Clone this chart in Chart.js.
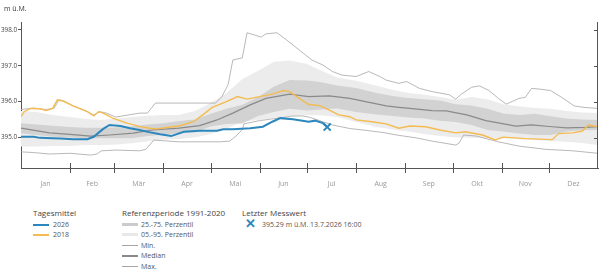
<!DOCTYPE html>
<html>
<head>
<meta charset="utf-8">
<script src="https://cdn.jsdelivr.net/npm/chart.js@4/dist/chart.umd.min.js"></script>
<style>
  body { margin: 0; background: #fff; font-family: "Open Sans", sans-serif; }
  #wrap { position: relative; width: 605px; height: 275px; }
  #box { position: absolute; left: 0; top: 0; width: 605px; height: 190px; }
  .t { position: absolute; white-space: nowrap; line-height: 1; }
  .unit { left: 4px; top: 5px; font-size: 7px; color: #333; }
  .head { font-size: 8px; color: #444; }
  .item { font-size: 7px; color: #555; }
  .sw { position: absolute; width: 16px; }
</style>
</head>
<body>
<div id="wrap">
  <div id="box"><canvas id="myChartLevel"></canvas></div>
  <div class="t unit">m ü.M.</div>

  <div class="t head" style="left:33px;top:209px">Tagesmittel</div>
  <div class="sw" style="left:33px;top:224px;height:2px;background:#2b87bd"></div>
  <div class="t item" style="left:53px;top:221px">2026</div>
  <div class="sw" style="left:33px;top:234px;height:2px;background:#f4bb50"></div>
  <div class="t item" style="left:53px;top:231px">2018</div>

  <div class="t head" style="left:122px;top:209px">Referenzperiode 1991-2020</div>
  <div class="sw" style="left:122px;top:223px;height:3px;background:#cbcbcb"></div>
  <div class="t item" style="left:141px;top:221px">25.-75. Perzentil</div>
  <div class="sw" style="left:122px;top:233px;height:3px;background:#e8e8e8"></div>
  <div class="t item" style="left:141px;top:231px">05.-95. Perzentil</div>
  <div class="sw" style="left:122px;top:245px;height:1px;background:#a6a6a6"></div>
  <div class="t item" style="left:141px;top:242px">Min.</div>
  <div class="sw" style="left:122px;top:255px;height:1.5px;background:#8a8a8a"></div>
  <div class="t item" style="left:141px;top:252px">Median</div>
  <div class="sw" style="left:122px;top:266px;height:1px;background:#a6a6a6"></div>
  <div class="t item" style="left:141px;top:263px">Max.</div>

  <div class="t head" style="left:242px;top:209px">Letzter Messwert</div>
  <div class="t" style="left:245px;top:217px;font-size:13px;color:#2b87bd;font-weight:bold">✕</div>
  <div class="t item" style="left:262px;top:221px">395.29 m ü.M. 13.7.2026 16:00</div>
</div>

<script>
// Month axis (day of year)
const months = ["Jan", "Feb", "Mär", "Apr", "Mai", "Jun", "Jul", "Aug", "Sep", "Okt", "Nov", "Dez"];
const monthStarts = [0, 31, 59, 90, 120, 151, 181, 212, 243, 273, 304, 334, 365];
const yTicks = [395, 396, 397, 398];

// Reference period 1991-2020 percentiles (shared days)
const bandDays = [0, 10, 20, 31, 40, 50, 59, 70, 80, 90, 100, 110, 120, 130, 140, 150, 160, 170, 181, 190,
  200, 212, 225, 235, 245, 255, 265, 275, 285, 295, 305, 315, 325, 335, 345, 355, 365];
const p95 = [395.74, 395.71, 395.63, 395.57, 395.52, 395.49, 395.52, 395.57, 395.61, 395.63,
  395.63, 395.74, 395.96, 396.24, 396.63, 396.86, 397.11, 397.15, 397.05, 396.86,
  396.67, 396.58, 396.44, 396.33, 396.24, 396.19, 396.13, 396.05, 396.13, 396.07,
  395.93, 395.87, 395.82, 395.80, 395.74, 395.70, 395.68];
const p75 = [395.40, 395.36, 395.33, 395.29, 395.27, 395.27, 395.28, 395.31, 395.36, 395.40,
  395.46, 395.50, 395.66, 395.80, 395.91, 396.13, 396.42, 396.60, 396.59, 396.54,
  396.45, 396.38, 396.24, 396.16, 396.10, 396.07, 396.03, 395.93, 395.89, 395.80,
  395.67, 395.63, 395.66, 395.59, 395.53, 395.50, 395.49];
const p25 = [395.12, 395.07, 395.02, 395.00, 394.98, 394.98, 394.98, 394.98, 395.04, 395.08,
  395.12, 395.15, 395.31, 395.38, 395.39, 395.60, 395.71, 395.80, 395.75, 395.78,
  395.81, 395.71, 395.64, 395.60, 395.56, 395.53, 395.47, 395.43, 395.35, 395.21,
  395.17, 395.11, 395.07, 395.07, 395.17, 395.20, 395.21];
const p05 = [394.75, 394.75, 394.76, 394.76, 394.79, 394.79, 394.80, 394.84, 394.89, 394.94,
  394.96, 395.00, 395.10, 395.24, 395.45, 395.48, 395.55, 395.60, 395.62, 395.62,
  395.57, 395.43, 395.29, 395.22, 395.17, 395.10, 395.04, 395.00, 394.99, 394.98,
  394.98, 394.96, 394.93, 394.90, 394.88, 394.85, 394.79];

// Median
const medDays = [0, 18, 31, 44, 56, 71, 83, 100, 113, 124, 134, 145, 155, 170, 182, 195, 208, 218, 231, 239,
  246, 260, 269, 282, 294, 302, 313, 323, 336, 345, 357, 365];
const medVals = [395.26, 395.13, 395.09, 395.04, 395.07, 395.12, 395.21, 395.26, 395.33, 395.49,
  395.68, 395.91, 396.09, 396.21, 396.14, 396.16, 396.09, 396.00, 395.88, 395.84,
  395.81, 395.75, 395.74, 395.63, 395.47, 395.41, 395.32, 395.35, 395.30, 395.27, 395.28, 395.30];

// Max
const maxDays = [0, 8, 16, 21, 24, 27, 33, 42, 46, 50, 54, 60, 75, 80, 85, 113, 123, 127, 131, 134,
  140, 143, 152, 155, 162, 168, 176, 184, 191, 197, 203, 212, 220, 227, 231, 239, 244, 252, 260, 271,
  275, 278, 285, 290, 296, 302, 307, 315, 319, 323, 328, 335, 342, 350, 356, 365];
const maxVals = [395.78, 395.82, 395.78, 395.82, 396.05, 396.02, 395.88, 395.72, 395.63, 395.72,
  395.68, 395.57, 395.68, 395.68, 395.96, 395.96, 395.96, 396.13, 396.47, 397.16,
  397.22, 397.92, 397.80, 397.89, 397.92, 397.72, 397.44, 397.16, 397.02, 396.84,
  396.74, 396.70, 396.84, 396.70, 396.60, 396.51, 396.56, 396.37, 396.28, 396.19,
  396.07, 396.19, 396.40, 396.44, 396.31, 396.09, 395.93, 396.09, 396.12, 396.37,
  396.35, 396.31, 396.12, 395.88, 395.84, 395.81];

// Min
const minDays = [0, 8, 18, 31, 44, 48, 51, 60, 75, 79, 84, 90, 100, 126, 132, 136, 140, 141, 151, 172,
  178, 182, 189, 197, 208, 218, 229, 239, 250, 260, 275, 277, 280, 288, 302, 315, 332, 349, 365];
const minVals = [394.60, 394.58, 394.54, 394.56, 394.51, 394.54, 394.63, 394.65, 394.63, 394.67,
  394.93, 394.91, 394.88, 394.88, 394.90, 395.04, 395.22, 395.38, 395.47, 395.60,
  395.60, 395.57, 395.47, 395.35, 395.25, 395.20, 395.14, 395.06, 394.99, 394.90,
  394.79, 394.84, 395.07, 395.04, 394.88, 394.76, 394.67, 394.63, 394.56];

// Tagesmittel 2026
const days2026 = [0, 8, 12, 20, 25, 33, 42, 46, 52, 56, 63, 69, 75, 81, 88, 95, 103, 113, 124, 128,
  134, 145, 153, 159, 164, 172, 178, 182, 186, 191, 193.7];
const vals2026 = [395.02, 395.02, 394.99, 394.98, 394.97, 394.95, 394.95, 395.02, 395.24, 395.35,
  395.32, 395.26, 395.21, 395.15, 395.09, 395.04, 395.16, 395.19, 395.19, 395.23,
  395.23, 395.26, 395.30, 395.44, 395.54, 395.51, 395.47, 395.44, 395.47, 395.40, 395.29];

// Tagesmittel 2018
const days2018 = [0, 2, 6, 12, 16, 20, 23, 27, 33, 42, 46, 49, 52, 58, 67, 75, 81, 86, 92, 100,
  109, 115, 121, 130, 137, 143, 151, 159, 166, 170, 176, 182, 189, 197, 201, 208, 212, 222, 231, 239,
  246, 256, 265, 275, 281, 292, 300, 305, 319, 336, 340, 349, 355, 359, 365];
const vals2018 = [395.58, 395.72, 395.81, 395.80, 395.75, 395.81, 396.05, 396.01, 395.88, 395.72,
  395.60, 395.72, 395.68, 395.54, 395.40, 395.31, 395.26, 395.24, 395.28, 395.32,
  395.44, 395.63, 395.84, 396.00, 396.14, 396.07, 396.14, 396.21, 396.31, 396.28,
  396.09, 395.92, 395.89, 395.72, 395.63, 395.58, 395.49, 395.44, 395.38, 395.26,
  395.32, 395.30, 395.21, 395.13, 395.16, 395.07, 394.93, 395.01, 394.97, 394.94,
  395.11, 395.13, 395.18, 395.35, 395.30];

// Letzter Messwert
const lastDay = [193.7];
const lastVal = [395.29];

const pts = (days, vals) => days.map((d, i) => ({ x: d, y: vals[i] }));
const monthMids = months.map((m, i) => (monthStarts[i] + monthStarts[i + 1]) / 2);

// Month tick marks across the x axis, right frame with inward ticks
const axisMarks = {
  id: "axisMarks",
  afterDraw(chart) {
    const { ctx, chartArea: a, scales } = chart;
    ctx.save();
    ctx.strokeStyle = "#555";
    ctx.lineWidth = 1;
    ctx.beginPath();
    monthStarts.slice(1, 12).forEach((d) => {
      const px = Math.round(scales.x.getPixelForValue(d)) + 0.5;
      ctx.moveTo(px, a.bottom - 5);
      ctx.lineTo(px, a.bottom + 5);
    });
    ctx.moveTo(a.right - 0.5, a.top);
    ctx.lineTo(a.right - 0.5, a.bottom);
    yTicks.forEach((v) => {
      const py = Math.round(scales.y.getPixelForValue(v)) + 0.5;
      ctx.moveTo(a.right - 4, py);
      ctx.lineTo(a.right, py);
    });
    ctx.stroke();
    ctx.restore();
  },
};

const line = (data, color, width) => ({
  data, borderColor: color, borderWidth: width, pointRadius: 0, fill: false, tension: 0,
});

const ctx = document.getElementById("myChartLevel").getContext("2d");
new Chart(ctx, {
  type: "line",
  data: {
    datasets: [
      {
        data: pts(lastDay, lastVal), showLine: false, pointStyle: "crossRot",
        pointRadius: 5, borderColor: "#2b87bd", borderWidth: 2,
      },
      line(pts(days2026, vals2026), "#2b87bd", 2),
      line(pts(days2018, vals2018), "#f4bb50", 1.4),
      line(pts(medDays, medVals), "#8a8a8a", 1.2),
      line(pts(maxDays, maxVals), "#a6a6a6", 0.8),
      line(pts(minDays, minVals), "#a6a6a6", 0.8),
      { data: pts(bandDays, p75), borderWidth: 0, pointRadius: 0, backgroundColor: "#d2d2d2", fill: { target: 7 } },
      { data: pts(bandDays, p25), borderWidth: 0, pointRadius: 0, fill: false },
      { data: pts(bandDays, p95), borderWidth: 0, pointRadius: 0, backgroundColor: "#ececec", fill: { target: 9 } },
      { data: pts(bandDays, p05), borderWidth: 0, pointRadius: 0, fill: false },
    ],
  },
  options: {
    responsive: true,
    maintainAspectRatio: false,
    animation: false,
    layout: { padding: { top: 22, right: 6, left: 0, bottom: 0 } },
    plugins: { legend: { display: false }, tooltip: { enabled: false } },
    scales: {
      x: {
        type: "linear",
        min: 0,
        max: 365,
        afterBuildTicks: (scale) => { scale.ticks = monthMids.map((v) => ({ value: v })); },
        afterFit: (scale) => { scale.height = 22; },
        ticks: {
          autoSkip: false, maxRotation: 0, padding: 4,
          color: "#999", font: { family: "Open Sans", size: 7 },
          callback: (v, i) => months[i],
        },
        grid: { display: false },
        border: { display: true, color: "#555" },
      },
      y: {
        min: 394.15,
        max: 398.22,
        afterBuildTicks: (scale) => { scale.ticks = yTicks.map((v) => ({ value: v })); },
        afterFit: (scale) => { scale.width = 21; },
        ticks: {
          padding: 1, color: "#444", font: { family: "Open Sans", size: 6.3 },
          callback: (v) => v.toFixed(1),
        },
        grid: { drawOnChartArea: false, tickLength: 3, color: "#555" },
        border: { display: true, color: "#555" },
      },
    },
  },
  plugins: [axisMarks],
});
</script>
</body>
</html>
